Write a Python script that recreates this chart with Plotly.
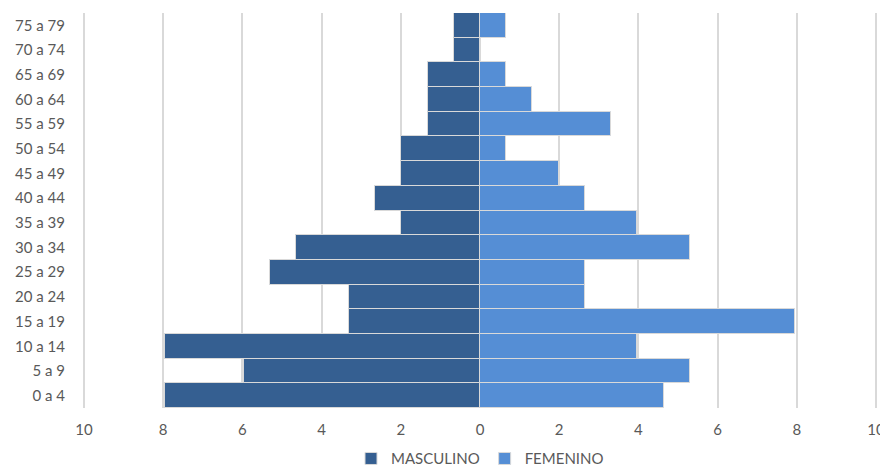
import plotly.graph_objects as go

# Age groups, bottom to top
age_groups = ["0 a 4", "5 a 9", "10 a 14", "15 a 19", "20 a 24", "25 a 29",
              "30 a 34", "35 a 39", "40 a 44", "45 a 49", "50 a 54", "55 a 59",
              "60 a 64", "65 a 69", "70 a 74", "75 a 79"]

# Share of population (%) per age group
masculino = [7.95, 5.96, 7.95, 3.31, 3.31, 5.30, 4.64, 1.99,
             2.65, 1.99, 1.99, 1.32, 1.32, 1.32, 0.66, 0.66]
femenino = [4.64, 5.30, 3.97, 7.95, 2.65, 2.65, 5.30, 3.97,
            2.65, 1.99, 0.66, 3.31, 1.32, 0.66, 0.00, 0.66]

# Symmetric axis ticks, labelled without sign
tick_values = [-10, -8, -6, -4, -2, 0, 2, 4, 6, 8, 10]
tick_labels = ["10", "8", "6", "4", "2", "0", "2", "4", "6", "8", "10"]

FONT = "Lato, 'Open Sans', sans-serif"
TEXT_COLOR = "#595959"

fig = go.Figure()
fig.add_trace(go.Bar(
    y=age_groups, x=[-v for v in masculino], orientation="h",
    name="MASCULINO", marker=dict(color="#355F91", line=dict(color="#D9D9D9", width=1)),
))
fig.add_trace(go.Bar(
    y=age_groups, x=femenino, orientation="h",
    name="FEMENINO", marker=dict(color="#558ED5", line=dict(color="#D9D9D9", width=1)),
))

fig.update_layout(
    width=880, height=470,
    margin=dict(l=82, r=2, t=13, b=62, autoexpand=False),
    barmode="relative", bargap=0,
    plot_bgcolor="white", paper_bgcolor="white",
    font=dict(family=FONT, size=15, color=TEXT_COLOR),
    showlegend=True,
    legend=dict(orientation="h", x=0.5, xanchor="center",
                yref="container", y=0.024, yanchor="middle",
                font=dict(size=15, color=TEXT_COLOR), traceorder="normal",
                itemwidth=30),
)
fig.update_xaxes(
    range=[-10.05, 10.05], tickvals=tick_values, ticktext=tick_labels,
    showgrid=True, gridcolor="#D9D9D9", gridwidth=1.5,
    zeroline=False, showline=False, ticks="", ticklabelstandoff=11,
    ticklabeloverflow="allow",
)
fig.update_yaxes(
    categoryorder="array", categoryarray=age_groups,
    showgrid=False, zeroline=False, showline=False, ticks="",
    ticklabelstandoff=16,
)

fig.write_html("out.html")
